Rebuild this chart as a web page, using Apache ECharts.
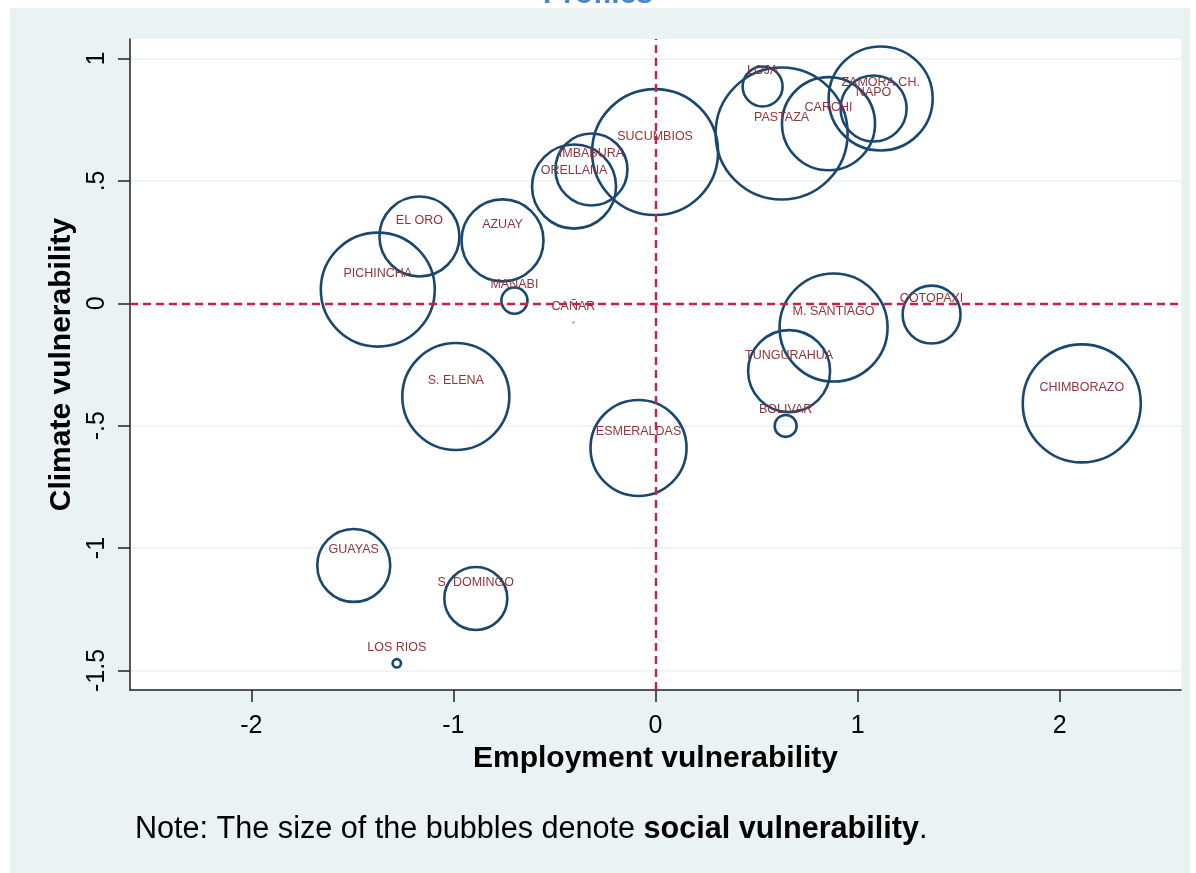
<!DOCTYPE html>
<html>
<head>
<meta charset="utf-8">
<script src="https://cdn.jsdelivr.net/npm/echarts@6/dist/echarts.min.js"></script>
<style>
html,body{margin:0;padding:0;background:#fff;}
#c{width:1196px;height:873px;}
</style>
</head>
<body>
<div id="c"></div>
<script>
// ---- data ----
const provinces = ["PICHINCHA","EL ORO","AZUAY","MANABI","CAÑAR","SUCUMBIOS","IMBABURA","ORELLANA","LOJA","PASTAZA","CARCHI","ZAMORA CH.","NAPO","M. SANTIAGO","COTOPAXI","TUNGURAHUA","BOLIVAR","CHIMBORAZO","S. ELENA","ESMERALDAS","GUAYAS","S. DOMINGO","LOS RIOS"];
const employment = [-1.374,-1.168,-0.757,-0.698,-0.406,-0.002,-0.317,-0.403,0.530,0.624,0.856,1.114,1.079,0.881,1.366,0.661,0.644,2.109,-0.988,-0.084,-1.493,-0.889,-1.280];
const climate = [0.056,0.273,0.257,0.011,-0.078,0.618,0.547,0.477,0.886,0.694,0.734,0.837,0.796,-0.099,-0.046,-0.277,-0.501,-0.409,-0.381,-0.591,-1.071,-1.206,-1.471];
const social = [0.749,0.374,0.393,0.044,0.0002,0.912,0.305,0.412,0.098,1.0,0.503,0.626,0.258,0.674,0.200,0.393,0.032,0.802,0.662,0.535,0.313,0.235,0.006];
const xTicks = [-2,-1,0,1,2];
const yTicks = [-1.5,-1,-0.5,0,0.5,1];

const FONT = "'Liberation Sans', Arial, sans-serif";
const NAVY = '#1a476f', MAROON = '#90353b', RED = '#cc1f45', BG = '#eaf2f3';

function bubbleSize(w){ return Math.max(1.5, 134*Math.sqrt(w) - 2); }

const data = provinces.map((p,i)=>{
  const s = bubbleSize(social[i]);
  return {
    name: p,
    value: [employment[i], climate[i], social[i]],
    symbolSize: s,
    itemStyle: { borderWidth: s < 4 ? 0.8 : 2.6, borderColor: s < 4 ? '#777' : NAVY }
  };
});

function fmtY(v){
  if (v === 0) return '0';
  return String(v).replace(/^(-?)0\./, '$1.');
}

const chart = echarts.init(document.getElementById('c'), null, {renderer:'canvas'});
chart.setOption({
  backgroundColor: '#fff',
  animation: false,
  textStyle: { fontFamily: FONT },
  graphic: [
    { type:'rect', z:-10, shape:{x:10, y:8, width:1180, height:865}, style:{fill:BG}, silent:true },
    { type:'text', left:'center', top:-20, z:5, style:{ text:'Profiles', fill:'#4a86c5', font:'bold 30px ' + FONT } },
    { type:'text', x:135, y:830, style:{
        text:'{r|Note: The size of the bubbles denote }{b|social vulnerability}{r|.}',
        verticalAlign:'middle',
        rich:{
          r:{ fontSize:30.6, fontFamily:FONT, fill:'#000', color:'#000' },
          b:{ fontSize:30.6, fontFamily:FONT, fontWeight:'bold', fill:'#000', color:'#000' }
        }
    } }
  ],
  grid: { left:130, top:39, right:15, bottom:183, show:true, backgroundColor:'#fff', borderWidth:0 },
  xAxis: {
    type:'value', min:-2.6, max:2.6,
    name:'Employment vulnerability', nameLocation:'middle', nameGap:50,
    nameTextStyle:{ fontSize:30, fontWeight:'bold', color:'#000', fontFamily:FONT },
    axisLine:{ show:true, onZero:false, lineStyle:{ color:'#222', width:1.5 } },
    axisTick:{ show:true, length:12, customValues:xTicks, lineStyle:{ color:'#222', width:1.5 } },
    axisLabel:{ customValues:xTicks, fontSize:25, color:'#000', margin:24, fontFamily:FONT },
    splitLine:{ show:false }
  },
  yAxis: {
    type:'value', min:-1.58, max:1.08,
    name:'Climate vulnerability', nameLocation:'middle', nameGap:53, nameRotate:90,
    nameTextStyle:{ fontSize:30, fontWeight:'bold', color:'#000', fontFamily:FONT },
    axisLine:{ show:true, onZero:false, lineStyle:{ color:'#222', width:1.5 } },
    axisTick:{ show:true, length:12, customValues:yTicks, lineStyle:{ color:'#222', width:1.5 } },
    axisLabel:{ customValues:yTicks, fontSize:25, color:'#000', margin:20, rotate:90, formatter:fmtY, fontFamily:FONT },
    splitLine:{ show:true, lineStyle:{ color:BG, width:1.5 } }
  },
  series: [{
    type:'scatter',
    data: data,
    symbol:'circle',
    itemStyle:{ color:'rgba(0,0,0,0)', borderColor:NAVY, borderWidth:2.6, opacity:1 },
    emphasis:{ disabled:true },
    label:{
      show:true, position:'inside', offset:[0,-16],
      formatter: p => p.name,
      color:MAROON, fontSize:12.5, fontFamily:FONT, opacity:1
    },
    markLine:{
      silent:true, symbol:'none',
      label:{ show:false },
      lineStyle:{ color:RED, width:2.4, type:[8,5], opacity:1 },
      data:[ { xAxis:0 }, { yAxis:0 } ]
    }
  }]
});
</script>
</body>
</html>
